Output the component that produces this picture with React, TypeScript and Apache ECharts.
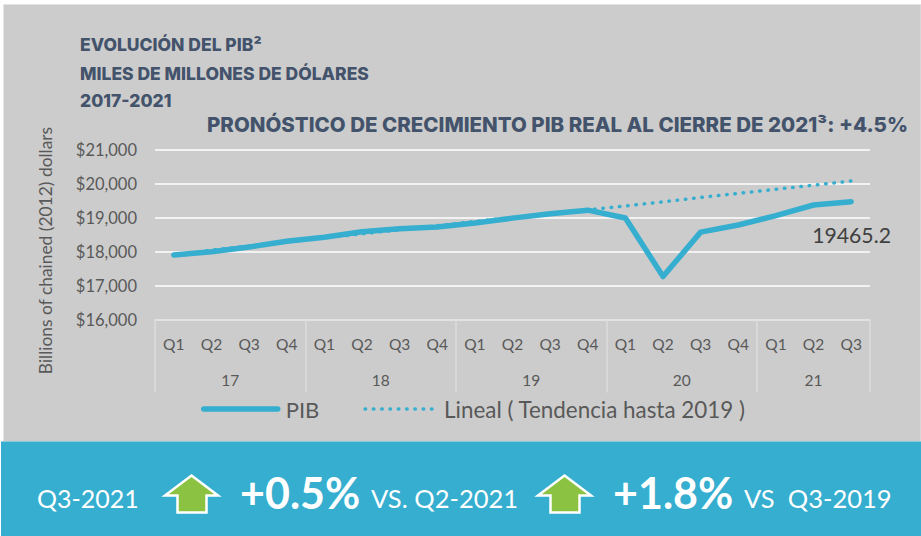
import React, { useEffect, useRef } from "react";
import * as echarts from "echarts";

const quarters = ["Q1","Q2","Q3","Q4","Q1","Q2","Q3","Q4","Q1","Q2","Q3","Q4","Q1","Q2","Q3","Q4","Q1","Q2","Q3"];
const pib = [17900,17990,18130,18300,18420,18580,18670,18720,18836,18982,19112,19216,18985,17265,18570,18780,19056,19368,19465.2];
const trend = [17900,18040,18160,18280,18400,18520,18640,18760,18880,19000,19110,19225,19340,19460,19590,19710,19830,19950,20075];
const yearLabels = ["17","18","19","20","21"];
const yearCentres = [2,6,10,14,17.5];
const yearEdges = [0,4,8,12,16,19];
const FONT = "Lato";
const TITLE_FONT = "Inter";
const TITLE = "#43536B";
const GREY = "#595959";

const arrowPoints = (x: number) => [[x+27.5,475.5],[x+54,495.5],[x+42.5,495.5],[x+42.5,512.5],[x+13.5,512.5],[x+13.5,495.5],[x+1,495.5]];

export default function App() {
  const ref = useRef<HTMLDivElement>(null);
  useEffect(() => {
    const chart = echarts.init(ref.current!, null, { renderer: "svg" });
    const t = (text: string, x: number, y: number, size: number, opts: any = {}) => ({
      type: "text", x, y, z: 10,
      style: { text, fontFamily: opts.family ?? FONT, fontSize: size, fontWeight: opts.weight ?? 400, fill: opts.fill ?? "#fff", verticalAlign: "middle", textVerticalAlign: "middle", textAlign: opts.align ?? "left" },
    });
    chart.setOption({
      animation: false,
      backgroundColor: "#ffffff",
      grid: { left: 155, right: 51, top: 149.5, height: 170, containLabel: false },
      legend: {
        left: 196, top: 393, itemWidth: 74, itemHeight: 26, itemGap: 44,
        itemStyle: { opacity: 0 },
        textStyle: { fontFamily: FONT, fontSize: 22, color: GREY, padding: [0, 0, 4, 3] },
        data: [
          { name: "PIB", itemStyle: { opacity: 0 }, lineStyle: { width: 5.5, cap: "round" } },
          { name: "Lineal ( Tendencia hasta 2019 )", itemStyle: { opacity: 0 }, lineStyle: { width: 3.5, type: [0.5, 7.8], cap: "round" },
            textStyle: { fontFamily: FONT, fontSize: 22.4, color: GREY, padding: [0, 0, 4, 0] } },
        ],
      },
      xAxis: [
        { type: "category", data: quarters, position: "bottom",
          axisLine: { show: false }, axisTick: { show: false },
          axisLabel: { interval: 0, fontFamily: FONT, fontSize: 15.5, color: GREY, margin: 16 } },
        { type: "value", min: 0, max: 19, position: "bottom",
          splitLine: { show: false },
          axisLine: { show: true, lineStyle: { color: "#DDDDDD", width: 1.5 } },
          axisTick: { show: true, customValues: yearEdges, length: 73, lineStyle: { color: "#DDDDDD", width: 1.5 } },
          axisLabel: { customValues: yearCentres, fontFamily: FONT, fontSize: 15.5, color: GREY, margin: 52,
            formatter: (v: number) => yearLabels[yearCentres.indexOf(v)] ?? "" } },
      ],
      yAxis: {
        type: "value", min: 16000, max: 21000, interval: 1000,
        name: "Billions of chained (2012) dollars", nameLocation: "middle", nameGap: 101, nameRotate: 90,
        nameTextStyle: { fontFamily: FONT, fontSize: 17.4, color: GREY, padding: [0, 32, 0, 0] },
        axisLine: { show: false }, axisTick: { show: false },
        axisLabel: { fontFamily: FONT, fontSize: 16.5, color: GREY, margin: 18,
          formatter: (v: number) => "$" + v.toLocaleString("en-US") },
        splitLine: { show: true, lineStyle: { color: "#FFFFFF", width: 1.5 } },
      },
      series: [
        { name: "Lineal ( Tendencia hasta 2019 )", type: "line", data: trend, symbol: "none", z: 2,
          lineStyle: { color: "#35AECF", width: 3.5, type: [0.5, 7.8], cap: "round" }, itemStyle: { color: "#35AECF" } },
        { name: "PIB", type: "line", data: pib, symbol: "none", z: 3,
          endLabel: { show: true, formatter: "{c}", fontFamily: FONT, fontSize: 21.2, color: "#404040", distance: 0, offset: [-39, 33] },
          lineStyle: { color: "#35AECF", width: 5.5, cap: "round", join: "round" }, itemStyle: { color: "#35AECF" } },
      ],
      graphic: [
        { type: "rect", z: -10, silent: true, shape: { x: 3.5, y: 4.5, width: 917.5, height: 437 }, style: { fill: "#CCCCCC", stroke: "#E4E4E4", lineWidth: 1 } },
        { type: "rect", z: 1, silent: true, shape: { x: 1, y: 441.5, width: 920, height: 94.5 }, style: { fill: "#35AECF" } },
        t("EVOLUCIÓN DEL PIB²", 80, 44, 17.5, { family: TITLE_FONT, weight: 800, fill: TITLE }),
        t("MILES DE MILLONES DE DÓLARES", 80, 73, 17.5, { family: TITLE_FONT, weight: 800, fill: TITLE }),
        t("2017-2021", 80, 100, 17.5, { family: TITLE_FONT, weight: 800, fill: TITLE }),
        t("PRONÓSTICO DE CRECIMIENTO PIB REAL AL CIERRE DE 2021³: +4.5%", 207, 124, 20.5, { family: TITLE_FONT, weight: 800, fill: TITLE }),
        t("Q3-2021", 37, 498, 25),
        { type: "polygon", z: 10, shape: { points: arrowPoints(164) }, style: { fill: "#8CC241", stroke: "#fff", lineWidth: 2.5 } },
        t("+0.5%", 240, 492, 43, { weight: 700 }),
        t("VS. Q2-2021", 371, 498, 25.5),
        { type: "polygon", z: 10, shape: { points: arrowPoints(537) }, style: { fill: "#8CC241", stroke: "#fff", lineWidth: 2.5 } },
        t("+1.8%", 613, 492, 43, { weight: 700 }),
        t("VS  Q3-2019", 744, 498, 25.5),
      ],
    });
    return () => chart.dispose();
  }, []);
  return <div ref={ref} style={{ position: "absolute", left: 0, top: 0, width: 921, height: 536 }} />;
}
